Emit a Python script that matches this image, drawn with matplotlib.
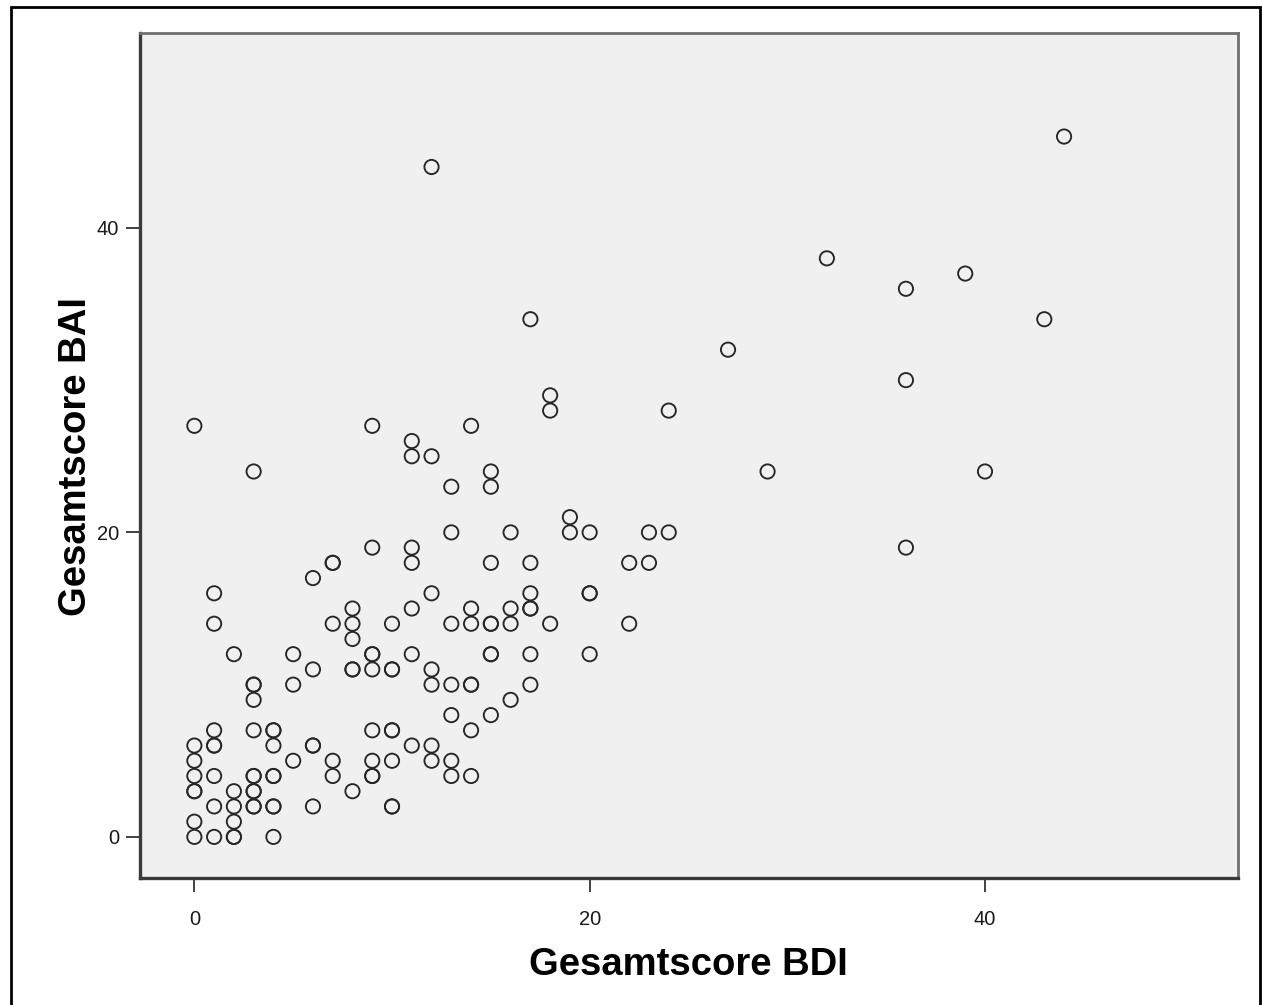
import matplotlib
matplotlib.use("Agg")
import matplotlib.pyplot as plt
from matplotlib.patches import Rectangle

plt.rcParams['font.family'] = ['Liberation Sans', 'DejaVu Sans']

bdi = [0, 0, 0, 0, 0, 0, 0, 0,
       1, 1, 1, 1, 1, 1, 1, 1,
       2, 2, 2, 2, 2, 2,
       3, 3, 3, 3, 3, 3, 3, 3, 3, 3, 3,
       4, 4, 4, 4, 4, 4, 4, 4,
       5, 5, 5,
       6, 6, 6, 6, 6,
       7, 7, 7, 7, 7,
       8, 8, 8, 8, 8, 8,
       9, 9, 9, 9, 9, 9, 9, 9, 9,
       10, 10, 10, 10, 10, 10, 10, 10,
       11, 11, 11, 11, 11, 11, 11,
       12, 12, 12, 12, 12, 12, 12,
       13, 13, 13, 13, 13, 13, 13,
       14, 14, 14, 14, 14, 14, 14,
       15, 15, 15, 15, 15, 15, 15, 15,
       16, 16, 16, 16,
       17, 17, 17, 17, 17, 17, 17,
       18, 18, 18,
       19, 19,
       20, 20, 20, 20,
       22, 22, 23, 23, 24, 24, 27, 29, 32,
       36, 36, 36, 39, 40, 43, 44]
bai = [0, 1, 3, 3, 4, 5, 6, 27,
       0, 2, 4, 6, 6, 7, 14, 16,
       0, 0, 1, 2, 3, 12,
       2, 2, 3, 3, 4, 4, 7, 9, 10, 10, 24,
       0, 2, 2, 4, 4, 6, 7, 7,
       5, 10, 12,
       2, 6, 6, 11, 17,
       4, 5, 14, 18, 18,
       3, 11, 11, 13, 14, 15,
       4, 4, 5, 7, 11, 12, 12, 19, 27,
       2, 2, 5, 7, 7, 11, 11, 14,
       6, 12, 15, 18, 19, 25, 26,
       5, 6, 10, 11, 16, 25, 44,
       4, 5, 8, 10, 14, 20, 23,
       4, 7, 10, 10, 14, 15, 27,
       8, 12, 12, 14, 14, 18, 23, 24,
       9, 14, 15, 20,
       10, 12, 15, 15, 16, 18, 34,
       14, 28, 29,
       20, 21,
       12, 16, 16, 20,
       14, 18, 18, 20, 20, 28, 32, 24, 38,
       19, 30, 36, 37, 24, 34, 46]

ticks = [0, 20, 40]

W, H = 1262, 1005
fig = plt.figure(figsize=(W / 100, H / 100), dpi=100)
fig.patch.set_facecolor('white')

# Plotbereich in Pixeln: links 140, rechts 1238, oben 33, unten 878
ax = fig.add_axes([140 / W, 1 - 878 / H, (1238 - 140) / W, (878 - 33) / H])
ax.set_facecolor('#f0f0f0')

ax.scatter(bdi, bai, s=105, facecolors='none', edgecolors='#262626',
           linewidths=1.35, zorder=3)

ax.set_xlim(-2.75, 52.8)
ax.set_ylim(-2.7, 52.8)
ax.set_xticks(ticks)
ax.set_yticks(ticks)
ax.tick_params(axis='both', direction='out', length=10, width=1.3,
               color='#333333', labelsize=14.5, labelcolor='#1a1a1a')
ax.tick_params(axis='x', pad=13)
ax.tick_params(axis='y', pad=5)

for side in ['left', 'bottom']:
    ax.spines[side].set_color('#3a3a3a')
    ax.spines[side].set_linewidth(2.4)
for side in ['top', 'right']:
    ax.spines[side].set_color('#707070')
    ax.spines[side].set_linewidth(2.0)

fig.text(688 / W, 1 - 975 / H, 'Gesamtscore BDI', ha='center', va='baseline',
         fontsize=27.5, fontweight='bold', color='black')
fig.text(76 / W, 1 - 457 / H, 'Gesamtscore BAI', ha='center', va='center',
         rotation=90, fontsize=27.5, fontweight='bold', color='black')

# äußerer Rahmen
fig.patches.append(Rectangle((11 / W, -0.01), (1260 - 11) / W, 0.01 + 1 - 7.3 / H,
                             transform=fig.transFigure, fill=False,
                             edgecolor='black', linewidth=2.0))

fig.savefig('out.png', dpi=100, facecolor='white')
